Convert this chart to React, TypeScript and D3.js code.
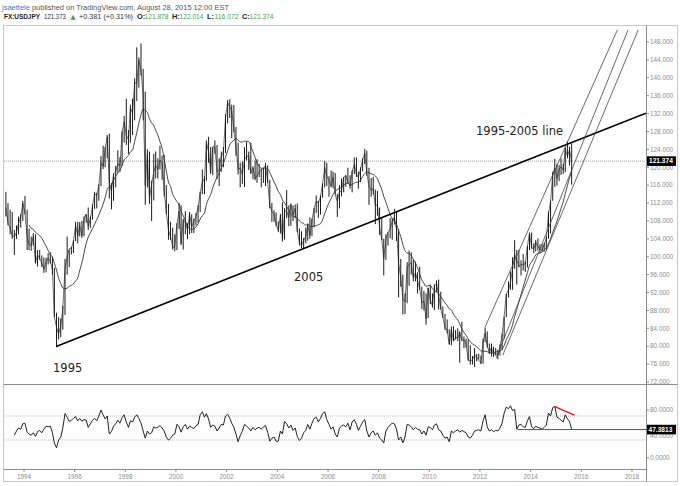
import React from 'react';
import * as d3 from 'd3';

// Monthly USDJPY, April 1993 .. August 2015
const priceHigh = [
  114.5, 112.0, 110.5, 110.0, 106.0, 107.0, 109.0, 109.5, 112.5,
  113.6, 110.5, 106.3, 104.5, 105.3, 105.0, 101.5, 101.5, 100.3, 99.8, 99.8, 100.8,
  101.0, 100.0, 97.5, 87.5, 86.5, 86.2, 89.0, 99.5, 104.5, 101.6, 102.2, 103.7,
  107.8, 107.8, 107.8, 108.0, 109.0, 109.5, 111.0, 109.0, 111.7, 114.5, 114.3, 116.2,
  122.5, 124.8, 124.5, 127.2, 127.5, 116.5, 118.6, 120.3, 123.8, 122.2, 128.0, 131.5,
  135.3, 128.3, 134.0, 135.3, 139.9, 146.8, 144.6, 147.66, 142.0, 136.9, 124.0, 123.5,
  117.0, 123.0, 123.5, 122.0, 124.8, 122.6, 122.8, 116.0, 111.8, 107.8, 106.5, 105.0,
  107.5, 112.0, 111.5, 108.5, 110.2, 107.5, 110.0, 109.5, 108.5, 109.8, 111.5, 114.5,
  119.5, 118.0, 126.0, 126.8, 124.5, 124.5, 126.0, 125.0, 122.0, 123.5, 124.5, 131.8,
  135.0, 135.2, 134.0, 133.9, 129.0, 125.5, 121.0, 121.3, 124.5, 125.7, 123.5, 125.5,
  120.2, 121.5, 121.8, 120.8, 119.6, 119.8, 121.0, 120.4, 117.2, 112.0, 110.4, 109.9,
  107.9, 109.6, 112.2, 110.9, 114.9, 111.5, 111.9, 111.5, 111.7, 111.9, 106.3, 105.7,
  104.2, 106.5, 107.4, 108.8, 108.5, 110.9, 113.7, 112.5, 113.7, 116.4, 121.4, 121.0,
  118.0, 119.3, 119.0, 118.7, 114.0, 116.0, 117.5, 117.8, 118.3, 119.9, 118.2, 119.3,
  122.2, 122.2, 119.0, 120.0, 122.0, 124.1, 123.7, 119.9, 117.6, 117.9, 115.0, 114.7,
  111.0, 108.6, 104.0, 105.0, 105.5, 108.6, 108.6, 110.7, 110.0, 106.2, 99.5, 96.0,
  91.8, 98.8, 101.4, 101.0, 99.3, 98.9, 96.5, 97.8, 93.3, 92.3, 91.8, 93.1,
  93.8, 91.8, 93.8, 94.7, 94.9, 92.2, 88.9, 87.2, 86.0, 83.8, 84.4, 84.5,
  83.6, 84.0, 83.3, 85.5, 82.2, 81.7, 81.5, 80.2, 77.8, 79.6, 78.3, 78.3,
  77.9, 81.7, 84.2, 83.3, 80.6, 80.6, 79.9, 79.6, 79.2, 80.4, 82.8, 86.6,
  91.7, 94.5, 96.7, 99.9, 103.7, 101.5, 101.5, 99.2, 100.6, 99.0, 102.4, 105.4,
  105.4, 103.0, 103.7, 104.1, 102.8, 102.8, 103.1, 104.5, 110.1, 112.5, 118.98, 121.85,
  120.8, 120.5, 122.0, 120.8, 124.5, 125.86, 124.6, 125.3,
];

const priceLow = [
  109.0, 107.0, 105.0, 104.0, 100.4, 104.0, 105.0, 106.5, 108.0,
  109.5, 101.5, 101.5, 101.3, 102.5, 98.5, 97.8, 99.3, 97.7, 96.4, 96.5, 98.3,
  98.5, 96.0, 86.5, 79.75, 81.5, 82.0, 83.7, 87.0, 96.0, 97.7, 100.5, 100.8,
  103.5, 103.0, 104.5, 104.2, 104.6, 107.6, 106.0, 106.5, 108.3, 110.7, 110.8, 112.5,
  115.8, 119.6, 120.0, 122.0, 113.0, 110.6, 112.5, 115.5, 118.8, 119.0, 120.3, 125.5,
  125.0, 123.0, 125.5, 127.2, 130.5, 134.8, 137.8, 140.5, 130.5, 111.6, 115.5, 111.8,
  108.0, 112.6, 117.5, 117.5, 119.5, 117.2, 113.5, 109.5, 103.8, 103.8, 101.6, 101.2,
  101.5, 106.2, 102.6, 101.6, 105.0, 103.9, 105.0, 105.3, 105.3, 107.0, 107.6, 110.0,
  114.0, 114.0, 117.0, 121.0, 118.5, 118.2, 123.0, 117.4, 115.8, 119.0, 120.0, 123.2,
  129.8, 131.0, 126.5, 127.8, 122.6, 118.4, 115.5, 116.3, 115.6, 121.5, 119.4, 118.5,
  117.3, 117.1, 116.5, 117.8, 115.5, 116.5, 115.8, 116.5, 110.8, 107.8, 107.8, 106.8,
  105.5, 105.2, 103.4, 103.8, 108.6, 106.8, 106.9, 108.0, 108.7, 105.5, 102.5, 101.9,
  101.7, 103.0, 103.6, 104.0, 104.6, 106.6, 109.8, 108.7, 109.4, 113.2, 115.5, 115.8,
  113.4, 115.5, 115.3, 113.9, 108.9, 110.8, 113.5, 114.4, 115.6, 116.5, 115.2, 114.4,
  118.5, 117.8, 115.2, 116.7, 119.1, 120.7, 118.1, 111.6, 113.4, 113.9, 107.3, 109.2,
  104.9, 103.7, 95.8, 99.3, 102.5, 104.1, 103.8, 107.2, 103.5, 90.9, 93.3, 87.1,
  87.2, 89.6, 93.5, 96.0, 94.5, 94.5, 91.8, 92.6, 88.3, 88.0, 84.8, 86.3,
  89.4, 88.6, 88.1, 92.1, 88.2, 88.2, 86.3, 83.6, 82.9, 80.4, 80.2, 81.2,
  81.5, 81.1, 76.3, 81.3, 79.6, 79.7, 76.8, 75.9, 75.9, 75.35, 76.6, 77.0,
  76.0, 76.1, 80.9, 79.7, 78.3, 77.7, 77.6, 77.9, 77.1, 77.9, 79.1, 81.7,
  86.5, 90.9, 92.6, 92.6, 97.3, 93.8, 97.6, 95.8, 96.9, 96.6, 97.6, 101.5,
  101.8, 100.8, 101.2, 101.4, 100.8, 101.2, 101.1, 101.5, 104.0, 105.2, 112.5, 115.6,
  115.9, 116.9, 118.3, 118.5, 118.9, 122.0, 120.4, 116.1,
];

const priceClose = [
  111.0, 107.5, 106.5, 104.7, 104.5, 105.5, 107.5, 109.0, 111.9,
  109.8, 104.3, 102.8, 102.5, 104.5, 98.6, 100.4, 99.6, 98.6, 97.2, 98.8, 99.7,
  99.0, 97.0, 86.6, 84.2, 82.8, 84.6, 88.5, 97.4, 99.9, 101.8, 101.9, 103.5,
  107.0, 104.8, 107.0, 104.7, 108.5, 109.5, 106.8, 108.6, 111.4, 114.0, 113.7, 115.9,
  121.1, 120.2, 124.0, 126.8, 116.4, 114.6, 118.5, 119.0, 120.8, 120.3, 127.8, 130.2,
  127.1, 126.2, 133.3, 132.1, 138.9, 138.7, 144.0, 141.5, 136.1, 116.0, 123.0, 113.1,
  116.2, 119.0, 120.4, 119.5, 121.6, 121.0, 114.6, 109.8, 106.0, 104.4, 102.1, 102.2,
  107.3, 110.2, 102.9, 108.1, 107.7, 106.0, 109.5, 106.7, 108.0, 109.0, 111.0, 114.4,
  116.6, 117.5, 125.6, 123.5, 118.9, 124.6, 124.6, 118.9, 119.4, 122.5, 123.4, 131.0,
  134.5, 133.5, 132.7, 128.5, 124.3, 119.5, 119.8, 118.4, 121.8, 122.4, 122.6, 118.7,
  119.9, 117.5, 118.1, 119.0, 119.5, 119.8, 120.4, 116.7, 111.4, 110.1, 109.6, 107.2,
  105.9, 109.3, 103.7, 110.3, 110.2, 108.8, 111.7, 109.3, 110.8, 105.8, 103.1, 102.6,
  103.6, 104.6, 107.1, 104.8, 108.3, 110.8, 112.4, 112.0, 113.4, 116.4, 119.9, 117.9,
  117.2, 115.8, 117.8, 113.9, 112.4, 114.5, 114.7, 117.8, 118.1, 116.8, 115.8, 119.0,
  120.7, 118.4, 117.8, 119.6, 121.7, 123.2, 118.6, 115.8, 114.8, 115.3, 111.3, 111.7,
  106.4, 103.9, 99.7, 103.9, 105.5, 106.2, 107.9, 108.8, 106.1, 98.4, 95.4, 90.6,
  89.9, 97.6, 98.3, 98.6, 95.3, 96.4, 94.7, 92.9, 89.7, 90.1, 86.1, 93.0,
  90.3, 89.0, 93.5, 94.0, 91.3, 88.4, 86.4, 84.2, 83.5, 80.4, 83.7, 81.1,
  82.0, 81.8, 83.1, 81.2, 81.5, 80.5, 76.8, 76.7, 77.0, 78.0, 77.6, 76.9,
  76.2, 81.2, 82.9, 80.1, 78.4, 79.8, 78.1, 78.4, 77.9, 79.8, 82.5, 86.7,
  91.7, 92.6, 94.2, 97.4, 100.5, 99.2, 97.9, 98.2, 98.3, 98.4, 102.4, 105.3,
  102.0, 101.8, 103.2, 102.2, 101.8, 101.3, 102.8, 104.1, 109.7, 112.3, 118.6, 119.8,
  117.5, 119.6, 120.1, 119.4, 124.1, 122.5, 123.9, 121.4,
];

// RSI, monthly readings, August 1993 .. August 2015
const rsiValues = [
  38, 45, 50, 48, 57,
  58, 43, 40, 38, 42, 36, 44, 46, 42, 48, 53, 52,
  53, 42, 25, 17, 30, 35, 50, 74, 68, 61, 63, 66,
  69, 62, 66, 61, 64, 63, 51, 57, 63, 66, 62, 70,
  80, 72, 65, 70, 40, 44, 53, 57, 63, 58, 67, 72,
  60, 51, 62, 60, 68, 72, 66, 58, 45, 33, 45, 40,
  42, 52, 50, 51, 54, 50, 45, 35, 30, 33, 38, 40,
  56, 52, 43, 52, 56, 48, 53, 51, 49, 54, 56, 72,
  77, 68, 74, 65, 51, 55, 53, 45, 50, 56, 55, 70,
  73, 66, 58, 51, 40, 27, 37, 45, 56, 53, 50, 45,
  51, 47, 50, 51, 48, 52, 54, 43, 28, 33, 35, 28,
  28, 45, 40, 61, 57, 50, 55, 46, 50, 36, 29, 33,
  42, 46, 56, 48, 58, 66, 68, 60, 66, 74, 77, 64,
  56, 48, 52, 40, 35, 50, 53, 55, 52, 58, 47, 60,
  64, 56, 46, 53, 60, 64, 45, 35, 42, 45, 38, 42,
  33, 30, 25, 45, 51, 55, 58, 57, 48, 30, 35, 25,
  35, 56, 55, 52, 47, 51, 48, 47, 40, 45, 38, 52,
  51, 47, 55, 57, 47, 45, 38, 33, 35, 27, 45, 42,
  45, 47, 43, 46, 44, 42, 35, 33, 38, 45, 46, 47,
  45, 62, 72, 52, 45, 47, 44, 46, 45, 50, 58, 75,
  85, 82, 87, 79, 81, 48, 55, 56, 52, 51, 62, 69,
  52, 49, 53, 51, 50, 48, 51, 55, 75, 70, 84, 86,
  68, 66, 63, 60, 72, 65, 61, 47.38,
];

const priceTicks = [72, 76, 80, 84, 88, 92, 96, 100, 104, 108, 112, 116, 120, 124, 128, 132, 136, 140, 144, 148];
const rsiTicks = [0, 40, 80];
const rsiBands = [30, 70];
const lastPrice = 121.374;
const lastRsi = 47.3813;

// drawn annotations: [date, value]
const trendLine: [string, number][] = [['1995-04-19', 80.0], ['2018-07-20', 132.1]];
const channelLines: [string, number][][] = [
  [['2012-03-15', 84.3], ['2017-06-05', 150.7]],
  [['2012-08-20', 77.3], ['2017-11-05', 150.7]],
  [['2012-11-25', 78.0], ['2018-04-01', 150.7]],
];
const rsiSupport: [string, number][] = [['2013-06-25', 47.3813], ['2018-08-01', 47.3813]];
const rsiDivergence: [string, number][] = [['2014-12-08', 86.0], ['2015-09-25', 71.3]];
const labelTexts = ['1995', '2005', '1995-2005 line'];

const W = 680;
const H = 486;
const L = 4;
const R = 646;
const mainTop = 26;
const mainBot = 384;
const rsiBot = 469;

export default function App() {
  const x = d3.scaleTime().domain([new Date(1994, 0, 1), new Date(2018, 0, 1)]).range([24, 632]);
  const y = d3.scaleLinear().domain([72, 148]).range([382, 42]);
  const yr = d3.scaleLinear().domain([0, 80]).range([458, 410]);

  const months = priceHigh.map((_, i) => new Date(1993, 3 + i, 15));
  const rsiDates = rsiValues.map((_, i) => new Date(1993, 7 + i, 15));

  const ma: [Date, number][] = [];
  for (let i = 11; i < priceClose.length; i++) {
    ma.push([months[i], d3.mean(priceClose.slice(i - 11, i + 1)) as number]);
  }
  const maPath = d3.line<[Date, number]>().x(d => x(d[0])).y(d => y(d[1])).curve(d3.curveMonotoneX)(ma) || '';
  const closePath = d3.line<number>().x((_, i) => x(months[i])).y(d => y(d))(priceClose) || '';
  const rsiPath = d3.line<number>().x((_, i) => x(rsiDates[i])).y(d => yr(d))(rsiValues) || '';

  const years = d3.timeYear.every(2)!.range(new Date(1993, 0, 1), new Date(2019, 0, 1)).filter(d => x(d) > L && x(d) < R);

  const ln = (pts: [string, number][], ys: (v: number) => number) => ({
    x1: x(new Date(pts[0][0])), y1: ys(pts[0][1]), x2: x(new Date(pts[1][0])), y2: ys(pts[1][1]),
  });

  const labelPos = [
    { x: 53, y: 371.5 },
    { x: 294, y: 281 },
    { x: 476, y: 135.3 },
  ];

  const axisFont = 'Liberation Sans, Arial, sans-serif';
  const green = '#3fa93f';

  return (
    <svg width={W} height={H} style={{ position: 'absolute', left: 0, top: 0, background: '#fff' }} fontFamily={axisFont}>
      <defs>
        <clipPath id="mainClip"><rect x={L} y={mainTop} width={R - L} height={mainBot - mainTop} /></clipPath>
        <clipPath id="rsiClip"><rect x={L} y={mainBot} width={R - L} height={rsiBot - mainBot} /></clipPath>
        <clipPath id="axisMainClip"><rect x={R} y={mainTop} width={W - R} height={mainBot - mainTop} /></clipPath>
      </defs>

      {/* header */}
      <text x={2} y={9.5} fontSize={7.4} fill="#555" textLength={227} lengthAdjust="spacingAndGlyphs">
        <tspan fill="#2f7ed8">jsaettele</tspan> published on TradingView.com, August 28, 2015 12:00 EST
      </text>
      <g fontSize={7.4}>
        <text x={4} y={19} fontWeight="bold" fill="#222" textLength={36} lengthAdjust="spacingAndGlyphs">FX:USDJPY</text>
        <text x={44} y={19} fill="#333" textLength={22} lengthAdjust="spacingAndGlyphs">121.373</text>
        <text x={70.5} y={19} fill={green} fontSize={6.5} fontFamily="DejaVu Sans">▲</text>
        <text x={79} y={19} fill="#333" textLength={54} lengthAdjust="spacingAndGlyphs">+0.381 (+0.31%)</text>
        {[['O:', '121.878', 137], ['H:', '122.014', 172], ['L:', '116.072', 207], ['C:', '121.374', 242]].map(([k, v, px]) => (
          <g key={k as string}>
            <text x={px as number} y={19} fontWeight="bold" fill="#222">{k}</text>
            <text x={(px as number) + 7.5} y={19} fill={green} textLength={24} lengthAdjust="spacingAndGlyphs">{v}</text>
          </g>
        ))}
      </g>

      {/* frame */}
      <rect x={3.5} y={25.5} width={674} height={456} fill="none" stroke="#c3c9d1" />

      {/* main panel */}
      <g clipPath="url(#mainClip)">
        <line x1={L} x2={R} y1={y(lastPrice)} y2={y(lastPrice)} stroke="#9a9a9a" strokeDasharray="1,1" />
        <path d={closePath} fill="none" stroke="#333" strokeWidth={0.7} />
        {months.map((d, i) => (
          <line key={i} x1={x(d)} x2={x(d)} y1={y(priceHigh[i])} y2={y(priceLow[i])} stroke="#1a1a1a" strokeWidth={1} />
        ))}
        <path d={maPath} fill="none" stroke="#333" strokeWidth={0.9} />
        <line {...ln(trendLine, y)} stroke="#000" strokeWidth={1.6} />
        {channelLines.map((c, i) => (
          <line key={i} {...ln(c, y)} stroke="#444" strokeWidth={0.8} />
        ))}
        {labelTexts.map((t, i) => (
          <text key={i} x={labelPos[i].x} y={labelPos[i].y} fontSize={11.5} fontFamily="DejaVu Sans" fill="#222">{t}</text>
        ))}
      </g>

      {/* price axis */}
      <line x1={R + 0.5} x2={R + 0.5} y1={25.5} y2={481.5} stroke="#8c8c8c" />
      <g clipPath="url(#axisMainClip)" fontSize={6.4} fill="#8c8c8c">
        {priceTicks.map(t => (
          <g key={t}>
            <line x1={R} x2={R + 3} y1={y(t)} y2={y(t)} stroke="#8c8c8c" />
            <text x={650} y={y(t)} dy="0.35em">{t.toFixed(3)}</text>
          </g>
        ))}
      </g>
      <rect x={647} y={y(lastPrice) - 4.8} width={29} height={9.6} fill="#000" />
      <text x={649} y={y(lastPrice)} dy="0.35em" fontSize={6.6} fontWeight="bold" fill="#fff">{lastPrice.toFixed(3)}</text>

      {/* separator */}
      <line x1={3.5} x2={677.5} y1={mainBot + 0.5} y2={mainBot + 0.5} stroke="#8c8c8c" />

      {/* RSI panel */}
      <g clipPath="url(#rsiClip)">
        {rsiBands.map(b => (
          <line key={b} x1={L} x2={R} y1={yr(b)} y2={yr(b)} stroke="#bbb" strokeDasharray="1,1" />
        ))}
        <path d={rsiPath} fill="none" stroke="#222" strokeWidth={1} />
        <line {...ln(rsiSupport, yr)} stroke="#555" strokeWidth={1} />
        <line {...ln(rsiDivergence, yr)} stroke="#e8101a" strokeWidth={1.3} />
      </g>
      <g fontSize={6.4} fill="#8c8c8c">
        {rsiTicks.map(t => (
          <g key={t}>
            <line x1={R} x2={R + 3} y1={yr(t)} y2={yr(t)} stroke="#8c8c8c" />
            <text x={650} y={yr(t) + (t === 40 ? 2 : 0)} dy="0.35em">{t.toFixed(4)}</text>
          </g>
        ))}
      </g>
      <line x1={R} x2={676} y1={yr(lastRsi)} y2={yr(lastRsi)} stroke="#555" />
      <rect x={647} y={yr(lastRsi) - 4.8} width={29} height={9.6} fill="#000" />
      <text x={648.5} y={yr(lastRsi)} dy="0.35em" fontSize={6.6} fontWeight="bold" fill="#fff">{lastRsi.toFixed(4)}</text>

      {/* time axis */}
      <line x1={3.5} x2={R} y1={rsiBot + 0.5} y2={rsiBot + 0.5} stroke="#8c8c8c" />
      <g fontSize={6.4} fill="#8c8c8c" textAnchor="middle">
        {years.map(d => (
          <g key={d.getFullYear()}>
            <line x1={x(d)} x2={x(d)} y1={rsiBot} y2={rsiBot + 3} stroke="#8c8c8c" />
            <text x={x(d)} y={479}>{d.getFullYear()}</text>
          </g>
        ))}
      </g>
    </svg>
  );
}
